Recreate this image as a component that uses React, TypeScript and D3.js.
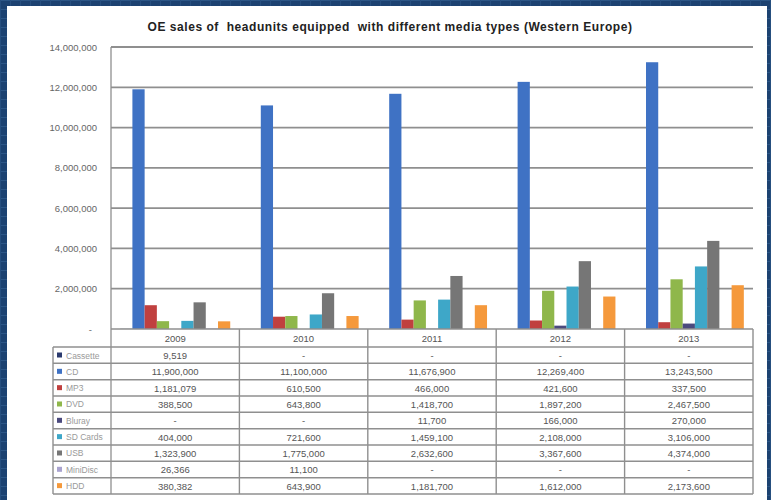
import React from "react";
import * as d3 from "d3";

const years = ["2009", "2010", "2011", "2012", "2013"];
const seriesNames = ["Cassette", "CD", "MP3", "DVD", "Bluray", "SD Cards", "USB", "MiniDisc", "HDD"];
const seriesColors = ["#2b3a6e", "#3f72c4", "#c0403f", "#8fb74b", "#4b4a7e", "#3ea7c8", "#767676", "#a9a3cf", "#f5993c"];
const cassette = [9519, null, null, null, null];
const cd = [11900000, 11100000, 11676900, 12269400, 13243500];
const mp3 = [1181079, 610500, 466000, 421600, 337500];
const dvd = [388500, 643800, 1418700, 1897200, 2467500];
const bluray = [null, null, 11700, 166000, 270000];
const sdCards = [404000, 721600, 1459100, 2108000, 3106000];
const usb = [1323900, 1775000, 2632600, 3367600, 4374000];
const miniDisc = [26366, 11100, null, null, null];
const hdd = [380382, 643900, 1181700, 1612000, 2173600];
const seriesValues: (number | null)[][] = [cassette, cd, mp3, dvd, bluray, sdCards, usb, miniDisc, hdd];
const yTicks = [0, 2000000, 4000000, 6000000, 8000000, 10000000, 12000000, 14000000];
const title = "OE sales of  headunits equipped  with different media types (Western Europe)";

export default function App() {
  const W = 771, H = 500;
  const left = 111, right = 753, top = 47, zeroY = 329;
  const tableLeft = 53;
  const headerBottom = 347;
  const rowH = 16.33;
  const x0 = d3.scaleBand<string>().domain(years).range([left, right]).padding(0);
  const x1 = d3.scaleBand<string>().domain(seriesNames).range([0, x0.bandwidth()]).paddingInner(0).paddingOuter(0.75);
  const y = d3.scaleLinear().domain([0, 14000000]).range([zeroY, top]);
  const fmt = d3.format(",");
  const font = "'Liberation Sans', Arial, sans-serif";
  const gridCol = "#8f8f8f";

  return (
    <svg width={W} height={H} style={{ position: "absolute", left: 0, top: 0 }} fontFamily={font}>
      <defs>
        <pattern id="bgp" width="10" height="9" patternUnits="userSpaceOnUse">
          <rect width="10" height="9" fill="#1c4271" />
          <line x1="0" y1="0.5" x2="10" y2="0.5" stroke="#2c5686" strokeWidth="1" />
          <line x1="0.5" y1="0" x2="0.5" y2="9" stroke="#264f7f" strokeWidth="1" />
        </pattern>
      </defs>
      <rect width={W} height={H} fill="url(#bgp)" />
      <rect x={7} y={6} width={760} height={H - 6} fill="#ffffff" />
      <text x={390} y={31} textAnchor="middle" fontSize={12} letterSpacing={0.55} fontWeight="bold" fill="#222" style={{ whiteSpace: "pre" }}>
        {title}
      </text>
      {/* gridlines */}
      {yTicks.filter((t) => t > 0).map((t) => (
        <line key={t} x1={left} x2={right} y1={y(t)} y2={y(t)} stroke={gridCol} strokeWidth={1.8} />
      ))}
      {yTicks.map((t) => (
        <text key={"l" + t} x={t === 0 ? 92 : 97} y={y(t) + 3.5} textAnchor="end" fontSize={9.5} fill="#666">
          {t === 0 ? "-" : fmt(t)}
        </text>
      ))}
      {/* bars */}
      {seriesValues.map((vals, si) =>
        vals.map((v, yi) =>
          v == null ? null : (
            <rect
              key={si + "-" + yi}
              x={(x0(years[yi]) as number) + (x1(seriesNames[si]) as number)}
              y={y(v)}
              width={x1.bandwidth()}
              height={zeroY - y(v)}
              fill={seriesColors[si]}
            />
          )
        )
      )}
      {/* axis line */}
      <line x1={left} x2={left} y1={top} y2={494} stroke={gridCol} strokeWidth={1.3} />
      <line x1={left} x2={right} y1={zeroY} y2={zeroY} stroke={gridCol} strokeWidth={1.5} />
      {/* table */}
      {years.map((yr) => (
        <line key={"v" + yr} x1={(x0(yr) as number) + x0.bandwidth()} x2={(x0(yr) as number) + x0.bandwidth()} y1={zeroY} y2={494} stroke={gridCol} strokeWidth={1.4} />
      ))}
      <line x1={tableLeft} x2={tableLeft} y1={headerBottom} y2={494} stroke={gridCol} strokeWidth={1.4} />
      {d3.range(seriesNames.length + 1).map((i) => (
        <line key={"h" + i} x1={tableLeft} x2={right} y1={headerBottom + i * rowH} y2={headerBottom + i * rowH} stroke={gridCol} strokeWidth={1.5} />
      ))}
      {years.map((yr) => (
        <text key={"t" + yr} x={(x0(yr) as number) + x0.bandwidth() / 2} y={342} textAnchor="middle" fontSize={9.5} fill="#555">
          {yr}
        </text>
      ))}
      {seriesNames.map((name, si) => (
        <g key={"r" + name}>
          <rect x={57} y={headerBottom + si * rowH + 5.5} width={5} height={5} fill={seriesColors[si]} />
          <text x={66} y={headerBottom + si * rowH + 11.5} fontSize={8.5} fill="#9a9a9a">{name}</text>
          {years.map((yr, yi) => (
            <text key={yr} x={(x0(yr) as number) + x0.bandwidth() / 2} y={headerBottom + si * rowH + 12} textAnchor="middle" fontSize={9.5} fill="#555">
              {seriesValues[si][yi] == null ? "-" : fmt(seriesValues[si][yi] as number)}
            </text>
          ))}
        </g>
      ))}
    </svg>
  );
}
